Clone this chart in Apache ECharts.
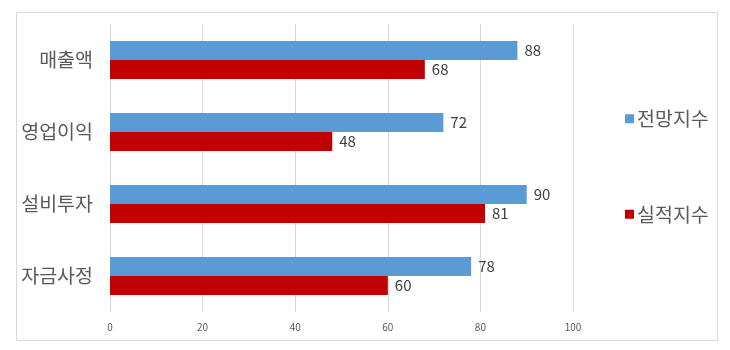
<!DOCTYPE html>
<html><head><meta charset="utf-8">
<script src="https://cdn.jsdelivr.net/npm/echarts@6/dist/echarts.min.js"></script>
<style>html,body{margin:0;padding:0;background:#fff}#c{width:730px;height:350px}</style>
</head><body><div id="c"></div>
<script>
const categories = ['매출액', '영업이익', '설비투자', '자금사정'];
const outlook = [88, 72, 90, 78];
const actual = [68, 48, 81, 60];
const seriesNames = ['전망지수', '실적지수'];
const xTicks = [0, 20, 40, 60, 80, 100];

const FONT = '"Noto Sans CJK KR", "Noto Sans", sans-serif';
const chart = echarts.init(document.getElementById('c'), null, {renderer: 'canvas'});
chart.setOption({
  animation: false,
  textStyle: {fontFamily: FONT},
  graphic: [{type: 'rect', shape: {x: 16.5, y: 12.5, width: 701, height: 328}, style: {fill: 'none', stroke: '#d9d9d9', lineWidth: 1}, silent: true}],
  grid: {left: 110, right: 157, top: 24, bottom: 38},
  legend: {
    orient: 'vertical', left: 620, top: 104, itemGap: 76,
    itemWidth: 9, itemHeight: 9, icon: 'rect',
    textStyle: {fontSize: 19.5, color: '#595959', fontFamily: FONT, padding: [0, 0, 0, -2]},
    data: seriesNames
  },
  xAxis: {
    type: 'value', min: xTicks[0], max: xTicks[xTicks.length - 1], interval: 20,
    axisLine: {show: false}, axisTick: {show: false},
    axisLabel: {fontSize: 10, color: '#595959', margin: 10, fontFamily: FONT},
    splitLine: {lineStyle: {color: '#d9d9d9', width: 1}}
  },
  yAxis: {
    type: 'category', data: categories, inverse: true,
    axisLine: {lineStyle: {color: '#d9d9d9'}}, axisTick: {show: false},
    axisLabel: {fontSize: 19.5, color: '#595959', margin: 17, fontFamily: FONT}
  },
  series: [
    {name: seriesNames[0], type: 'bar', data: outlook, barGap: '0%', barCategoryGap: '47%',
     itemStyle: {color: '#5B9BD5'},
     label: {show: true, position: 'right', distance: 7, fontSize: 15, color: '#404040', fontFamily: FONT}},
    {name: seriesNames[1], type: 'bar', data: actual, barGap: '0%', barCategoryGap: '47%',
     itemStyle: {color: '#C00000'},
     label: {show: true, position: 'right', distance: 7, fontSize: 15, color: '#404040', fontFamily: FONT}}
  ]
});
</script></body></html>
